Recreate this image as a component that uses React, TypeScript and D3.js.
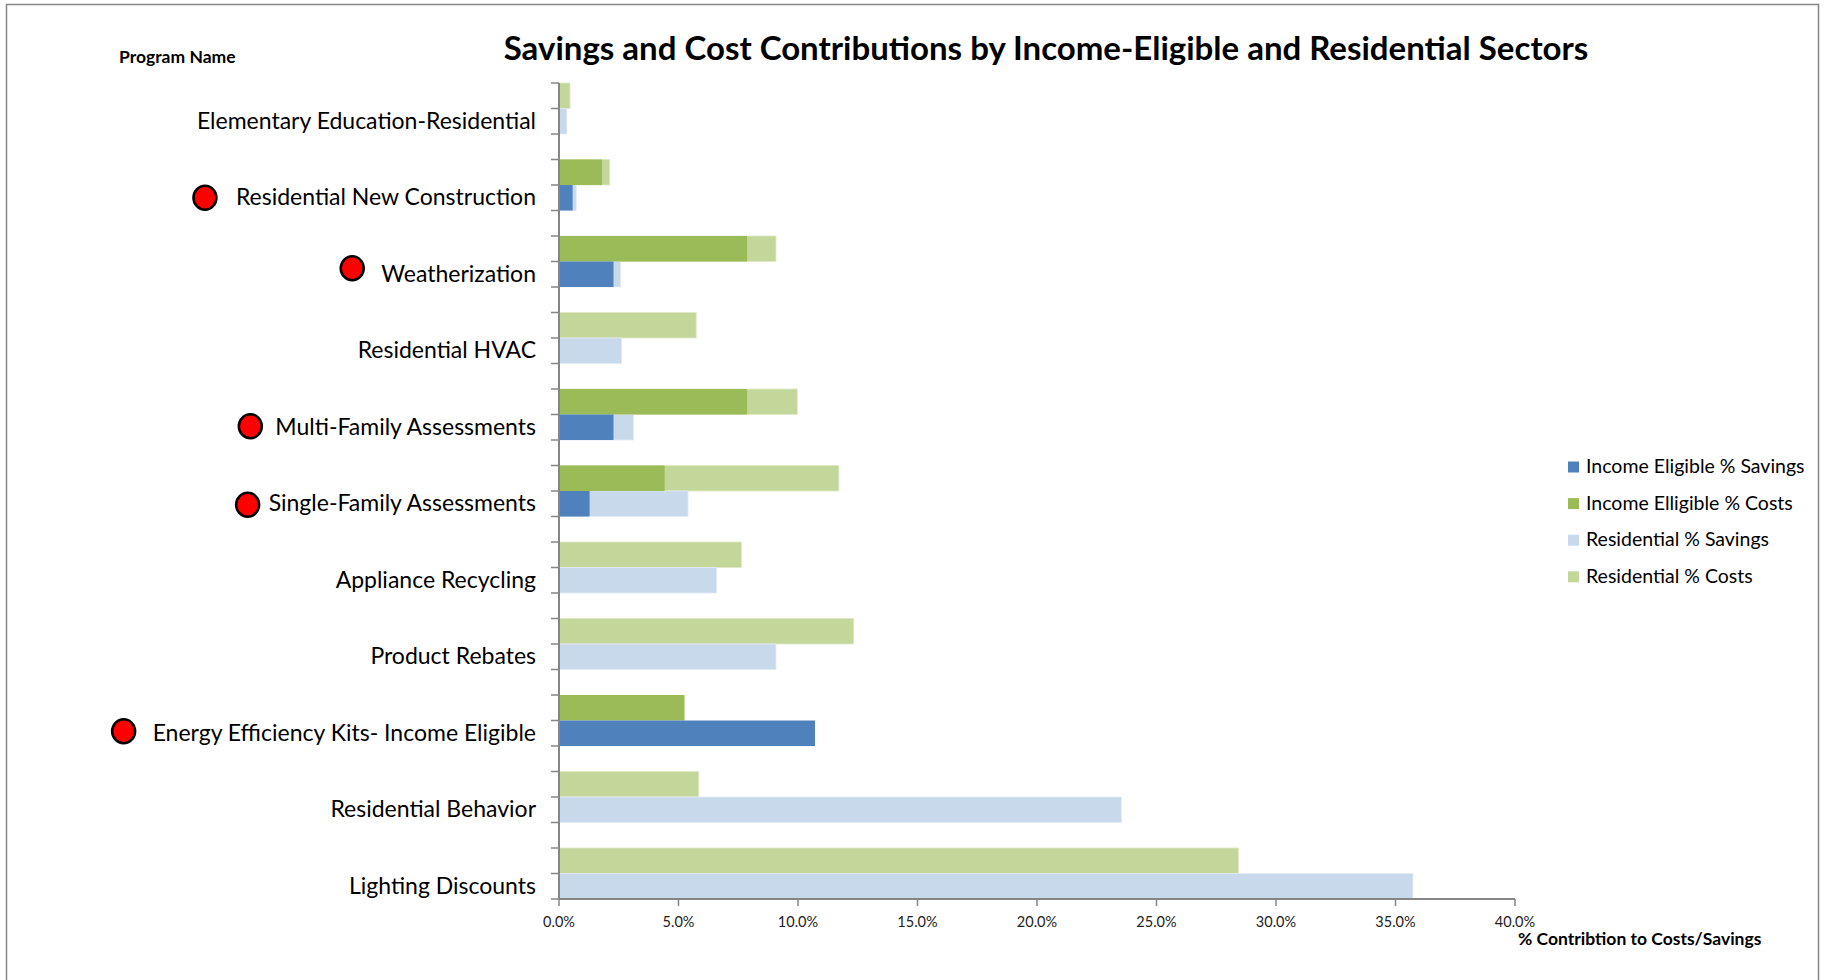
import React, { useLayoutEffect, useRef, useState } from "react";
import * as d3 from "d3";

// ---- data (percent values) ----
const programs = [
  "Elementary Education-Residential",
  "Residential New Construction",
  "Weatherization",
  "Residential HVAC",
  "Multi-Family Assessments",
  "Single-Family Assessments",
  "Appliance Recycling",
  "Product Rebates",
  "Energy Efficiency Kits- Income Eligible",
  "Residential Behavior",
  "Lighting Discounts",
];
const incomeSavings = [0, 0.57, 2.28, 0, 2.28, 1.28, 0, 0, 10.71, 0, 0];
const incomeCosts = [0, 1.8, 7.87, 0, 7.87, 4.42, 0, 0, 5.25, 0, 0];
const residentialSavings = [0.33, 0.72, 2.58, 2.62, 3.12, 5.4, 6.59, 9.08, 0, 23.53, 35.73];
const residentialCosts = [0.46, 2.12, 9.08, 5.74, 9.97, 11.71, 7.63, 12.33, 0, 5.85, 28.43];
const highlighted = [false, true, true, false, true, true, false, false, true, false, false];
const xTicks = [0, 5, 10, 15, 20, 25, 30, 35, 40];
const legendItems = [
  "Income Eligible % Savings",
  "Income Elligible % Costs",
  "Residential % Savings",
  "Residential % Costs",
];

// ---- styling ----
const COLORS = ["#4F81BD", "#9BBB59", "#C9D9EC", "#C4D79B"];
const AXIS = "#868686";
const FONT = "Lato, 'Open Sans', sans-serif";
// small hand-placed offsets for the red markers (dx from label start, dy from row centre)
const markerOffsets = [
  [0, 0], [-31, 0], [-29, -6], [0, 0], [-25, -1], [-21, 1], [0, 0], [0, 0], [-29, -2], [0, 0], [0, 0],
];

export default function App() {
  const W = 1827;
  const H = 980;
  const x = d3.scaleLinear().domain([0, 40]).range([559, 1515]);

  const rowKeys: string[] = [];
  programs.forEach((_, i) => {
    rowKeys.push(`c${i}`, `s${i}`);
    if (i < programs.length - 1) rowKeys.push(`g${i}`);
  });
  const y = d3.scaleBand<string>().domain(rowKeys).range([83, 899]).paddingInner(0).paddingOuter(0);
  const bh = y.bandwidth();

  const labelRefs = useRef<(SVGTextElement | null)[]>([]);
  const [widths, setWidths] = useState<number[]>(programs.map(() => 0));
  useLayoutEffect(() => {
    const w = labelRefs.current.map((t) => (t ? t.getComputedTextLength() : 0));
    setWidths(w);
  }, []);

  const labelX = 536;

  return (
    <svg
      width={W}
      height={H}
      style={{ position: "absolute", left: 0, top: 0, background: "#fff" }}
      fontFamily={FONT}
    >
      <rect x={0} y={0} width={W} height={H} fill="#fff" />
      <rect x={6.5} y={4.5} width={1812} height={1000} fill="none" stroke={AXIS} strokeWidth={1.5} />

      <text x={1046} y={52} textAnchor="middle" dominantBaseline="middle" fontSize={33} fontWeight={700} fill="#000">
        Savings and Cost Contributions by Income-Eligible and Residential Sectors
      </text>
      <text x={119} y={59} dominantBaseline="middle" fontSize={17.5} fontWeight={700} fill="#000">
        Program Name
      </text>

      {/* residential bars (behind) */}
      {programs.map((p, i) => (
        <g key={`r${i}`}>
          {residentialCosts[i] > 0 && (
            <rect x={x(0)} y={y(`c${i}`)} width={x(residentialCosts[i]) - x(0)} height={bh} fill={COLORS[3]} stroke="#dfe9c8" strokeWidth={0.8} />
          )}
          {residentialSavings[i] > 0 && (
            <rect x={x(0)} y={y(`s${i}`)} width={x(residentialSavings[i]) - x(0)} height={bh} fill={COLORS[2]} stroke="#e1eaf5" strokeWidth={0.8} />
          )}
        </g>
      ))}
      {/* income eligible bars (front) */}
      {programs.map((p, i) => (
        <g key={`i${i}`}>
          {incomeCosts[i] > 0 && (
            <rect x={x(0)} y={y(`c${i}`)} width={x(incomeCosts[i]) - x(0)} height={bh} fill={COLORS[1]} />
          )}
          {incomeSavings[i] > 0 && (
            <rect x={x(0)} y={y(`s${i}`)} width={x(incomeSavings[i]) - x(0)} height={bh} fill={COLORS[0]} />
          )}
        </g>
      ))}

      {/* y axis */}
      <line x1={x(0)} x2={x(0)} y1={83} y2={899} stroke={AXIS} strokeWidth={2} />
      {rowKeys.map((k) => (
        <line key={`yt${k}`} x1={x(0) - 8} x2={x(0)} y1={(y(k) as number)} y2={(y(k) as number)} stroke={AXIS} strokeWidth={1.5} />
      ))}
      <line x1={x(0) - 8} x2={x(0)} y1={899} y2={899} stroke={AXIS} strokeWidth={1.5} />

      {/* x axis */}
      <line x1={x(0)} x2={x(40)} y1={899} y2={899} stroke={AXIS} strokeWidth={2} />
      {xTicks.map((t) => (
        <g key={`xt${t}`}>
          <line x1={x(t)} x2={x(t)} y1={899} y2={906} stroke={AXIS} strokeWidth={1.5} />
          <text x={x(t)} y={923} textAnchor="middle" dominantBaseline="middle" fontSize={14.5} fill="#222">
            {`${t.toFixed(1)}%`}
          </text>
        </g>
      ))}
      <text x={1518} y={941} dominantBaseline="middle" fontSize={17.5} fontWeight={700} fill="#000">
        % Contribtion to Costs/Savings
      </text>

      {/* category labels */}
      {programs.map((p, i) => {
        const cy = (y(`s${i}`) as number) + bh / 2;
        return (
          <g key={`l${i}`}>
            <text
              ref={(el) => {
                labelRefs.current[i] = el;
              }}
              x={labelX}
              y={cy + 1.5}
              textAnchor="end"
              dominantBaseline="middle"
              fontSize={23}
              fill="#000"
            >
              {p}
            </text>
            {highlighted[i] && widths[i] > 0 && (
              <ellipse
                cx={labelX - widths[i] + markerOffsets[i][0]}
                cy={cy + markerOffsets[i][1]}
                rx={11.5}
                ry={12}
                fill="#FF0000"
                stroke="#000"
                strokeWidth={2.5}
              />
            )}
          </g>
        );
      })}

      {/* legend */}
      {legendItems.map((name, i) => {
        const ly = 467 + i * 36.6;
        return (
          <g key={`lg${i}`}>
            <rect x={1568} y={ly - 5.5} width={11} height={11} fill={COLORS[i]} />
            <text x={1586} y={ly + 1} dominantBaseline="middle" fontSize={19.5} fill="#000">
              {name}
            </text>
          </g>
        );
      })}
    </svg>
  );
}
